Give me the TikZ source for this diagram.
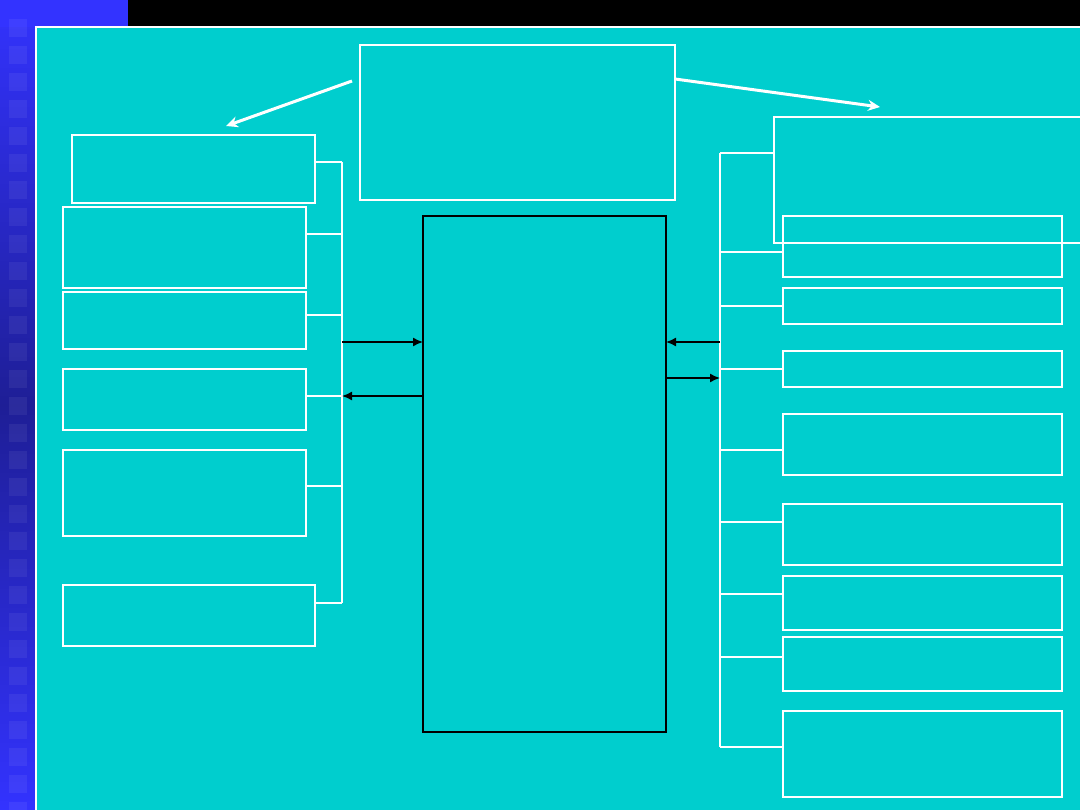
\documentclass[tikz,border=0pt]{standalone}
\usetikzlibrary{arrows.meta}
\definecolor{panel}{RGB}{0,206,206}
\definecolor{stripA}{RGB}{51,51,255}
\definecolor{stripB}{RGB}{30,30,150}
\tikzset{
  wbox/.style={draw=white, line width=1.5pt, inner sep=0pt, outer sep=0pt, anchor=north west},
  cbox/.style={draw=black, line width=1.5pt, inner sep=0pt, outer sep=0pt, anchor=north west},
  wline/.style={draw=white, line width=1.5pt},
  barrow/.style={draw=black, line width=1.5pt, -{Latex[length=10pt,width=9pt]}},
  warrow/.style={draw=white, line width=3pt, -{Stealth[length=12pt,width=11pt]}},
}
\newcommand{\mybx}[6][wbox]{\node[#1, minimum width=#4pt-#2pt, minimum height=#5pt-#3pt] (#6) at (#2,#3) {};}
\begin{document}
\begin{tikzpicture}[x=1pt,y=-1pt]
\useasboundingbox (0,0) rectangle (1080,810);
% background strip
\fill[black] (0,0) rectangle (1080,27);
\shade[top color=stripA, bottom color=stripA, middle color=stripB] (0,0) rectangle (36,810);
\fill[stripA] (0,0) rectangle (128,27);
\foreach \i in {0,...,29} {
  \fill[white, opacity=0.06] (9,19+27*\i) rectangle (27,37+27*\i);
}
% panel
\fill[panel] (36,27) rectangle (1080,810);
\draw[white, line width=2pt] (36,810) -- (36,27) -- (1080,27);
% top box
\mybx{360}{45}{675}{200}{T}
% left boxes
\mybx{72}{135}{315}{203}{L1}
\mybx{63}{207}{306}{288}{L2}
\mybx{63}{292}{306}{349}{L3}
\mybx{63}{369}{306}{430}{L4}
\mybx{63}{450}{306}{536}{L5}
\mybx{63}{585}{315}{646}{L6}
% center
\mybx[cbox]{423}{216}{666}{732}{C}
% right boxes
\mybx{774}{117}{1082}{243}{R0}
\mybx{783}{216}{1062}{277}{R1}
\mybx{783}{288}{1062}{324}{R2}
\mybx{783}{351}{1062}{387}{R3}
\mybx{783}{414}{1062}{475}{R4}
\mybx{783}{504}{1062}{565}{R5}
\mybx{783}{576}{1062}{630}{R6}
\mybx{783}{637}{1062}{691}{R7}
\mybx{783}{711}{1062}{797}{R8}
% left bus
\coordinate (lb1) at (342,162);
\coordinate (lb2) at (342,234);
\coordinate (lb3) at (342,315);
\coordinate (lb4) at (342,396);
\coordinate (lb5) at (342,486);
\coordinate (lb6) at (342,603);
\coordinate (la1) at (342,342);
\draw[wline] (lb1) -- (lb6);
\draw[wline] (L1.east |- lb1) -- (lb1);
\draw[wline] (L2.east |- lb2) -- (lb2);
\draw[wline] (L3.east |- lb3) -- (lb3);
\draw[wline] (L4.east |- lb4) -- (lb4);
\draw[wline] (L5.east |- lb5) -- (lb5);
\draw[wline] (L6.east |- lb6) -- (lb6);
\draw[barrow] (la1) -- (C.west |- la1);
\draw[barrow] (C.west |- lb4) -- (lb4);
% right bus
\coordinate (rb0) at (720,153);
\coordinate (rb1) at (720,252);
\coordinate (rb2) at (720,306);
\coordinate (rb3) at (720,369);
\coordinate (rb4) at (720,450);
\coordinate (rb5) at (720,522);
\coordinate (rb6) at (720,594);
\coordinate (rb7) at (720,657);
\coordinate (rb8) at (720,747);
\coordinate (ra1) at (720,342);
\coordinate (ra2) at (720,378);
\draw[wline] (rb0) -- (rb8);
\draw[wline] (rb0) -- (R0.west |- rb0);
\draw[wline] (rb1) -- (R1.west |- rb1);
\draw[wline] (rb2) -- (R2.west |- rb2);
\draw[wline] (rb3) -- (R3.west |- rb3);
\draw[wline] (rb4) -- (R4.west |- rb4);
\draw[wline] (rb5) -- (R5.west |- rb5);
\draw[wline] (rb6) -- (R6.west |- rb6);
\draw[wline] (rb7) -- (R7.west |- rb7);
\draw[wline] (rb8) -- (R8.west |- rb8);
\draw[barrow] (ra1) -- (C.east |- ra1);
\draw[barrow] (C.east |- ra2) -- (ra2);
% top arrows
\coordinate (ta1) at (226,126);
\coordinate (ta2) at (880,107);
\draw[warrow] ([xshift=-8pt]T.west |- 0,81) -- (ta1);
\draw[warrow] (T.east |- 0,79) -- (ta2);
\end{tikzpicture}
\end{document}
